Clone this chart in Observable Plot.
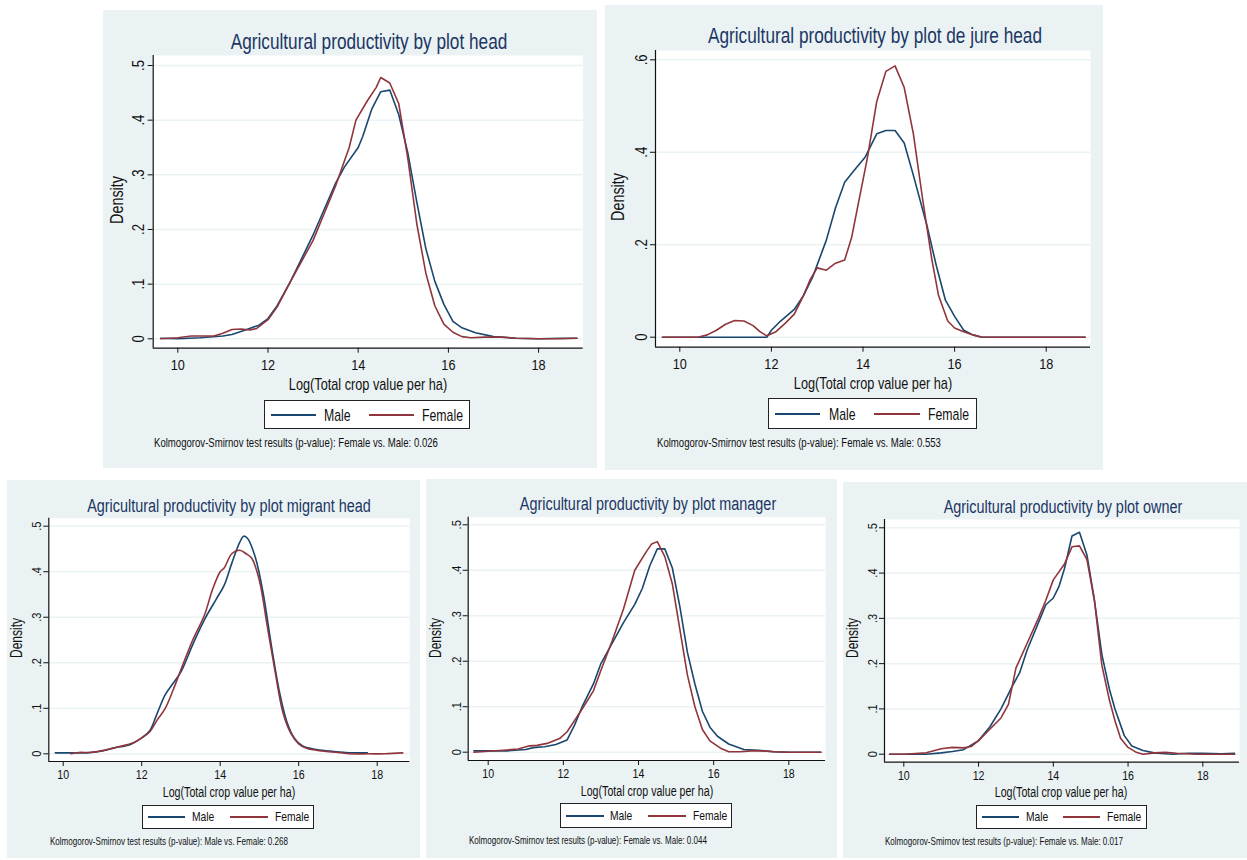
<!DOCTYPE html>
<html><head><meta charset="utf-8">
<script src="https://cdn.jsdelivr.net/npm/d3@7"></script>
<script src="https://cdn.jsdelivr.net/npm/@observablehq/plot@0.6"></script>
<style>
html,body{margin:0;padding:0;background:#fff;}
#root{position:relative;width:1247px;height:860px;overflow:hidden;}
.panel{position:absolute;background:#eaf2f3;}
.panel svg{position:absolute;left:0;top:0;}
.t,.tl{position:absolute;white-space:nowrap;line-height:1;}
.leg{position:absolute;background:#fff;border:1.3px solid #222;box-sizing:border-box;}
.leg .ln{position:absolute;height:1.5px;}
</style></head><body><div id="root"></div>
<script>
// ---------------- data ----------------
const sexes = ["Male", "Female"];
const xTicks = [10, 12, 14, 16, 18];

const headMaleX = [9.62,10.0,10.5,11.0,11.2,11.5,11.8,12.0,12.2,12.5,13.0,13.5,13.7,14.0,14.1,14.3,14.5,14.7,14.9,15.1,15.3,15.5,15.7,15.9,16.1,16.3,16.6,17.0,17.5,18.0,18.5,18.85];
const headMaleY = [0.001,0.0,0.002,0.005,0.008,0.016,0.025,0.037,0.06,0.105,0.19,0.285,0.315,0.35,0.37,0.42,0.452,0.455,0.41,0.34,0.25,0.165,0.105,0.063,0.032,0.02,0.011,0.004,0.001,0.0,0.001,0.001];
const headFemaleX = [9.62,10.0,10.3,10.8,11.0,11.2,11.4,11.6,11.75,12.0,12.2,12.5,13.0,13.5,13.8,13.95,14.2,14.4,14.5,14.7,14.9,15.1,15.3,15.5,15.7,15.9,16.1,16.3,16.5,16.8,17.2,17.5,18.0,18.5,18.85];
const headFemaleY = [0.0,0.002,0.005,0.005,0.01,0.017,0.018,0.016,0.019,0.035,0.058,0.105,0.18,0.28,0.35,0.40,0.435,0.46,0.478,0.468,0.43,0.33,0.21,0.12,0.06,0.027,0.012,0.004,0.002,0.003,0.003,0.001,0.0,0.0,0.001];

const dejureMaleX = [9.62,11.9,12.0,12.2,12.5,12.7,12.9,13.2,13.4,13.6,13.8,14.05,14.3,14.5,14.7,14.9,15.1,15.4,15.6,15.8,16.0,16.2,16.4,16.6,18.85];
const dejureMaleY = [0,0,0.015,0.035,0.06,0.09,0.13,0.21,0.28,0.335,0.36,0.39,0.44,0.447,0.447,0.42,0.35,0.24,0.155,0.08,0.045,0.015,0.005,0,0];
const dejureFemaleX = [9.62,10.4,10.6,10.8,11.0,11.2,11.4,11.6,11.75,11.9,12.1,12.3,12.5,12.7,12.85,13.0,13.2,13.4,13.6,13.75,13.9,14.1,14.3,14.5,14.7,14.9,15.1,15.3,15.5,15.65,15.85,16.0,16.2,16.4,16.6,18.85];
const dejureFemaleY = [0,0,0.005,0.015,0.028,0.036,0.035,0.025,0.012,0.003,0.012,0.03,0.05,0.09,0.125,0.15,0.145,0.16,0.167,0.215,0.29,0.39,0.51,0.575,0.587,0.54,0.44,0.3,0.17,0.09,0.035,0.02,0.012,0.005,0,0];

const migrantMaleX = [9.8,10.2,10.6,11.0,11.3,11.7,12.0,12.2,12.4,12.6,12.8,13.0,13.3,13.6,13.9,14.1,14.3,14.5,14.6,14.7,14.9,15.1,15.3,15.5,15.7,15.9,16.1,16.4,16.8,17.2,17.75];
const migrantMaleY = [0.002,0.002,0.002,0.006,0.013,0.02,0.035,0.05,0.09,0.13,0.155,0.18,0.24,0.295,0.34,0.37,0.42,0.465,0.478,0.473,0.43,0.35,0.24,0.14,0.07,0.033,0.017,0.01,0.006,0.003,0.002];
const migrantFemaleX = [10.2,10.4,10.7,11.0,11.4,11.8,12.0,12.2,12.4,12.6,12.8,13.0,13.3,13.6,13.8,14.0,14.1,14.3,14.5,14.65,14.8,15.0,15.2,15.4,15.6,15.8,16.0,16.2,16.6,17.0,17.3,17.8,18.2,18.65];
const migrantFemaleY = [0,0.003,0.003,0.007,0.015,0.025,0.035,0.048,0.075,0.1,0.14,0.185,0.25,0.305,0.36,0.40,0.408,0.44,0.447,0.44,0.43,0.38,0.28,0.18,0.09,0.045,0.022,0.012,0.006,0.003,0,0,0,0.002];

const managerMaleX = [9.62,10.0,10.5,11.0,11.2,11.5,11.8,12.1,12.3,12.5,12.8,13.0,13.3,13.6,13.9,14.1,14.3,14.5,14.7,14.9,15.1,15.3,15.5,15.7,15.9,16.1,16.4,16.8,17.2,17.6,18.0,18.85];
const managerMaleY = [0.003,0.003,0.003,0.006,0.01,0.012,0.017,0.027,0.06,0.1,0.15,0.195,0.24,0.285,0.325,0.36,0.41,0.447,0.447,0.405,0.32,0.22,0.15,0.09,0.055,0.035,0.018,0.006,0.004,0.001,0,0];
const managerFemaleX = [9.62,10.0,10.5,10.8,11.1,11.3,11.6,11.9,12.1,12.3,12.5,12.8,13.0,13.3,13.6,13.9,14.2,14.35,14.5,14.7,14.9,15.1,15.3,15.5,15.7,15.9,16.2,16.4,16.7,17.0,17.3,17.6,18.0,18.85];
const managerFemaleY = [0,0.002,0.005,0.007,0.014,0.015,0.02,0.03,0.045,0.07,0.095,0.135,0.18,0.245,0.315,0.4,0.44,0.458,0.463,0.43,0.37,0.27,0.17,0.1,0.05,0.025,0.008,0.001,0.001,0.003,0.003,0.001,0,0];

const ownerMaleX = [9.62,10.0,10.6,11.0,11.3,11.6,12.0,12.3,12.6,12.9,13.1,13.3,13.6,13.8,14.0,14.15,14.3,14.5,14.7,14.9,15.1,15.3,15.5,15.65,15.9,16.1,16.4,16.7,17.0,17.2,17.6,18.0,18.5,18.85];
const ownerMaleY = [0,0,0,0.003,0.006,0.01,0.03,0.06,0.1,0.15,0.18,0.23,0.29,0.33,0.345,0.37,0.41,0.482,0.49,0.44,0.34,0.22,0.144,0.1,0.041,0.018,0.008,0.003,0.001,0,0.002,0.002,0.001,0.002];
const ownerFemaleX = [9.62,10.0,10.6,11.0,11.3,11.6,11.8,12.0,12.3,12.6,12.8,13.0,13.3,13.6,13.8,14.0,14.3,14.5,14.7,14.9,15.1,15.3,15.5,15.65,15.8,16.0,16.2,16.4,16.7,17.0,17.3,17.8,18.85];
const ownerFemaleY = [0,0,0.003,0.012,0.015,0.014,0.017,0.03,0.055,0.08,0.11,0.19,0.245,0.3,0.34,0.385,0.42,0.458,0.46,0.43,0.34,0.196,0.12,0.074,0.035,0.015,0.005,0,0.003,0.004,0.002,0,0];

const titles = ["Agricultural productivity by plot head","Agricultural productivity by plot de jure head","Agricultural productivity by plot migrant head","Agricultural productivity by plot manager","Agricultural productivity by plot owner"];
const notes = ["Kolmogorov-Smirnov test results (p-value): Female vs. Male: 0.026","Kolmogorov-Smirnov test results (p-value): Female vs. Male: 0.553","Kolmogorov-Smirnov test results (p-value): Male vs. Female: 0.268","Kolmogorov-Smirnov test results (p-value): Female vs. Male: 0.044","Kolmogorov-Smirnov test results (p-value): Female vs. Male: 0.017"];
const xTitle = "Log(Total crop value per ha)";
const yTitle = "Density";

// ---------------- styles / layout ----------------
const FONT = "'Liberation Sans',Arial,sans-serif";
const SX = 0.82, SY = 1.08;   // narrow, slightly tall lettering
const BLUE = "#1a476f", RED = "#90353b", GRID = "#eaf2f3", TITLE = "#1c3664", AXIS = "#111";

const panels = [
  {s:1, pad:5.5, curve:"linear", male:[headMaleX,headMaleY], female:[headFemaleX,headFemaleY], yTicks:[0,.1,.2,.3,.4,.5],
   box:[103,10,597,468], plot:[152.7,55,582.7,347.7], x0:[10,177.3], xk:45.1, y0:[0,338.3], yk:546.6,
   titleC:[369,41], xlabC:[367.7,384], ylabC:[117,200], legend:[264.3,400,470,429.3], noteXY:[154,443]},
  {s:1, pad:5.5, curve:"linear", male:[dejureMaleX,dejureMaleY], female:[dejureFemaleX,dejureFemaleY], yTicks:[0,.2,.4,.6],
   box:[605,5,1103,470], plot:[655,50,1090,346.7], x0:[10,679.3], xk:45.8, y0:[0,336.7], yk:462.3,
   titleC:[874.5,35], xlabC:[872.5,382.7], ylabC:[618,197], legend:[767.7,398,976.7,429.3], noteXY:[656.7,443.3]},
  {s:0.838, pad:3.5, curve:"catmull-rom", male:[migrantMaleX,migrantMaleY], female:[migrantFemaleX,migrantFemaleY], yTicks:[0,.1,.2,.3,.4,.5],
   box:[7,480,420,858], plot:[48.3,517.7,409.3,761], x0:[10,62.7], xk:39.25, y0:[0,753.3], yk:455.2,
   titleC:[229,505.7], xlabC:[228.5,792], ylabC:[16.7,638], legend:[141.7,805,314.3,829.3], noteXY:[50,841.7]},
  {s:0.838, pad:3.5, curve:"linear", male:[managerMaleX,managerMaleY], female:[managerFemaleX,managerFemaleY], yTicks:[0,.1,.2,.3,.4,.5],
   box:[426,479,837,858], plot:[467.7,516.7,825,760], x0:[10,487.7], xk:37.58, y0:[0,751.7], yk:454.8,
   titleC:[647.5,504.3], xlabC:[646.5,791.3], ylabC:[436,638], legend:[560,803.3,732.3,828.3], noteXY:[469,840.7]},
  {s:0.838, pad:3.5, curve:"linear", male:[ownerMaleX,ownerMaleY], female:[ownerFemaleX,ownerFemaleY], yTicks:[0,.1,.2,.3,.4,.5],
   box:[843,482,1247,858], plot:[884,519,1239,761.7], x0:[10,903.3], xk:37.375, y0:[0,753.7], yk:452.8,
   titleC:[1062.5,507.3], xlabC:[1061.3,792], ylabC:[853.3,638], legend:[975.7,805,1146.7,829.3], noteXY:[885,841.7]}
];

const fmtY = d => d === 0 ? "0" : String(d).replace(/^0/, "");
const root = document.getElementById("root");

function addText(parent, cls, txt, x, y, size, color, rotate) {
  const el = document.createElement("div");
  el.className = cls;
  el.textContent = txt;
  el.style.left = x + "px"; el.style.top = y + "px";
  el.style.fontSize = size + "px"; el.style.color = color;
  el.style.fontFamily = FONT;
  if (cls === "tl") {
    el.style.transformOrigin = "0 50%";
    el.style.transform = `translate(0,-50%) scale(${SX},${SY})`;
  } else if (rotate) {
    el.style.transform = `translate(-50%,-50%) rotate(-90deg) scale(${SX},${SY})`;
  } else {
    el.style.transform = `translate(-50%,-50%) scale(${SX},${SY})`;
  }
  parent.appendChild(el);
  return el;
}

// compress svg lettering horizontally, about each label's anchor
function condense(svg) {
  const num = v => (v !== null && /^-?[\d.]+(e-?\d+)?$/.test(v.trim())) ? +v : 0;
  svg.querySelectorAll("text").forEach(t => {
    const tr = t.getAttribute("transform") || "";
    const px = num(t.getAttribute("x")), py = num(t.getAttribute("y"));
    t.setAttribute("transform", `${tr} translate(${px},${py}) scale(${SX},1) translate(${-px},${-py})`);
  });
}

panels.forEach((p, i) => {
  const [bx0, by0, bx1, by1] = p.box;
  const [pl, pt, pr, pb] = p.plot;
  const W = bx1 - bx0, H = by1 - by0;
  const xdom = [p.x0[0] + (pl - p.x0[1]) / p.xk, p.x0[0] + (pr - p.x0[1]) / p.xk];
  const ydom = [(p.y0[1] - pb) / p.yk, (p.y0[1] - pt) / p.yk];
  const data = [];
  [["Male", p.male], ["Female", p.female]].forEach(([sex, [xs, ys]]) => {
    xs.forEach((x, j) => data.push({sex, x, y: ys[j]}));
  });
  const s = p.s;
  const div = document.createElement("div");
  div.className = "panel";
  Object.assign(div.style, {left: bx0 + "px", top: by0 + "px", width: W + "px", height: H + "px"});
  root.appendChild(div);

  const chart = Plot.plot({
    width: W, height: H,
    marginLeft: pl - bx0, marginTop: pt - by0, marginRight: bx1 - pr, marginBottom: by1 - pb,
    style: {background: "transparent", fontFamily: FONT, overflow: "visible", color: AXIS},
    x: {domain: xdom}, y: {domain: ydom},
    color: {domain: sexes, range: [BLUE, RED]},
    marks: [
      Plot.frame({fill: "#fff", stroke: "none"}),
      Plot.gridY(p.yTicks, {stroke: GRID, strokeOpacity: 1, strokeWidth: 1.5}),
      Plot.axisX(xTicks, {tickSize: 5, tickPadding: p.pad, fontSize: 15.5 * s, label: null, stroke: AXIS, fill: AXIS}),
      Plot.axisY(p.yTicks, {tickSize: 5, tickFormat: () => "", label: null, stroke: AXIS}),
      Plot.text(p.yTicks, {y: d => d, text: fmtY, frameAnchor: "left", rotate: -90, dx: -14 * s, textAnchor: "middle", lineAnchor: "middle", fontSize: 16 * s, fill: AXIS}),
      Plot.ruleY([ydom[0]], {stroke: AXIS, strokeWidth: 1.2}),
      Plot.ruleX([xdom[0]], {stroke: AXIS, strokeWidth: 1.2}),
      Plot.line(data, {x: "x", y: "y", z: "sex", stroke: "sex", strokeWidth: 1.6, curve: p.curve})
    ]
  });
  condense(chart);
  div.appendChild(chart);

  addText(div, "t", titles[i], p.titleC[0] - bx0, p.titleC[1] - by0, 21 * s, TITLE);
  addText(div, "t", xTitle, p.xlabC[0] - bx0, p.xlabC[1] - by0, 15.5 * s, AXIS);
  addText(div, "t", yTitle, p.ylabC[0] - bx0, p.ylabC[1] - by0, 17.5 * s, AXIS, true);
  addText(div, "tl", notes[i], p.noteXY[0] - bx0, p.noteXY[1] - by0, 11.7 * s, AXIS);

  // legend
  const [lx0, ly0, lx1, ly1] = p.legend;
  const lw = lx1 - lx0, lh = ly1 - ly0, k = lw / 206;
  const leg = document.createElement("div");
  leg.className = "leg";
  Object.assign(leg.style, {left: (lx0 - bx0) + "px", top: (ly0 - by0) + "px", width: lw + "px", height: lh + "px"});
  div.appendChild(leg);
  [[BLUE, "Male", 6, 51, 59], [RED, "Female", 104, 149, 157.4]].forEach(([c, lab, a, b, tx]) => {
    const ln = document.createElement("div");
    ln.className = "ln";
    Object.assign(ln.style, {left: a * k + "px", width: (b - a) * k + "px", top: Math.round(lh / 2 - 2) + "px", background: c});
    leg.appendChild(ln);
    addText(leg, "tl", lab, tx * k, lh / 2 - 1, 15 * s, AXIS);
  });
});
</script></body></html>
